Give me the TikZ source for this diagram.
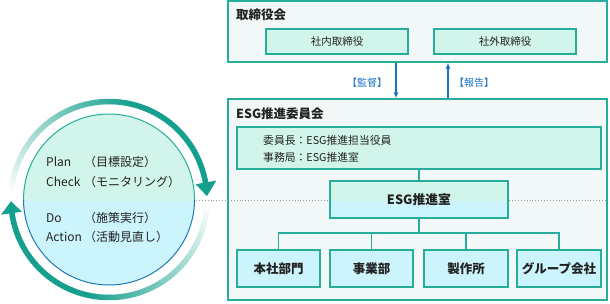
\documentclass[tikz,border=0pt]{standalone}
\usepackage{fontspec}
\setmainfont{Noto Sans CJK JP}
\usetikzlibrary{arrows.meta}
\definecolor{teal1}{HTML}{26AE9B}
\definecolor{mint}{HTML}{D2F5EB}
\definecolor{cyanf}{HTML}{CCF4FC}
\definecolor{outerf}{HTML}{F2F8F8}
\definecolor{ringc}{HTML}{14A08C}
\definecolor{blue1}{HTML}{1A72C0}
\definecolor{cblue}{HTML}{1E78B8}
\definecolor{dotc}{HTML}{9A9A9A}
\definecolor{txt}{HTML}{222222}
\tikzset{
  outerbox/.style={draw=teal1, line width=1.4pt, fill=outerf, inner sep=0pt},
  mintbox/.style={draw=teal1, line width=1.4pt, fill=mint, inner sep=0pt, text=txt, font=\fontsize{10.5}{12}\selectfont},
  cyanbox/.style={draw=teal1, line width=1.4pt, fill=cyanf, inner sep=0pt, text=txt, font=\bfseries\fontsize{12.5}{14}\selectfont},
  title/.style={anchor=west, inner sep=0pt, text=txt, font=\bfseries\fontsize{12.5}{14}\selectfont},
  conn/.style={draw=teal1, line width=1.4pt},
  varrow/.style={draw=blue1, line width=1.2pt, -{Latex[length=6pt,width=5pt]}},
  vlabel/.style={text=blue1, inner sep=0pt, font=\fontsize{10}{11}\selectfont},
  ctext/.style={anchor=west, inner sep=0pt, text=txt, font=\fontsize{12}{14}\selectfont},
  itext/.style={anchor=west, inner sep=0pt, text=txt, font=\fontsize{10.8}{12}\selectfont},
}
\begin{document}
\begin{tikzpicture}[x=1pt,y=-1pt]
\useasboundingbox (0,0) rectangle (610,303);
\def\cx{109}\def\cy{199.5}\def\R{98}
% ---- PDCA circle
\begin{scope}
  \clip (\cx,\cy) circle (85.5pt);
  \fill[mint] (0,90) rectangle (220,200.5);
  \fill[cyanf] (0,200.5) rectangle (220,300);
\end{scope}
\begin{scope}
  \clip (0,90) rectangle (220,200.5);
  \draw[teal1, line width=1pt] (\cx,\cy) circle (85.5pt);
\end{scope}
\begin{scope}
  \clip (0,200.5) rectangle (220,300);
  \draw[cblue, line width=1pt] (\cx,\cy) circle (85.5pt);
\end{scope}
% top ring arc (fading in)
\foreach \i in {0,...,84} {
  \pgfmathsetmacro\aa{178-2*\i}
  \pgfmathsetmacro\ab{\aa-2.6}
  \pgfmathtruncatemacro\p{min(100,\i*2)}
  \draw[ringc!\p!white, line width=5.5pt] ({\cx+\R*cos(\aa)},{\cy-\R*sin(\aa)}) -- ({\cx+\R*cos(\ab)},{\cy-\R*sin(\ab)});
}
\fill[ringc] ({\cx+88*cos(10)},{\cy-88*sin(10)}) -- ({\cx+109*cos(10)},{\cy-109*sin(10)}) -- ({\cx+98*cos(2)},{\cy-98*sin(2)}) -- cycle;
% bottom ring arc
\foreach \i in {0,...,85} {
  \pgfmathsetmacro\aa{-2-2*\i}
  \pgfmathsetmacro\ab{\aa-2.6}
  \pgfmathtruncatemacro\p{min(100,\i*2)}
  \draw[ringc!\p!white, line width=5.5pt] ({\cx+\R*cos(\aa)},{\cy-\R*sin(\aa)}) -- ({\cx+\R*cos(\ab)},{\cy-\R*sin(\ab)});
}
\fill[ringc] ({\cx+88*cos(-172)},{\cy-88*sin(-172)}) -- ({\cx+109*cos(-172)},{\cy-109*sin(-172)}) -- ({\cx+98*cos(-179)},{\cy-98*sin(-179)}) -- cycle;
% circle texts
\node[ctext] (tplan) at (46,162) {Plan};
\node[ctext] (tplan2) at (84,162) {（目標設定）};
\node[ctext] (tcheck) at (46,182) {Check};
\node[ctext] (tcheck2) at (84,182) {（モニタリング）};
\node[ctext] (tdo) at (46,218) {Do};
\node[ctext] (tdo2) at (84,218) {（施策実行）};
\node[ctext] (tact) at (46,237) {Action};
\node[ctext] (tact2) at (84,237) {（活動見直し）};
% ---- board
\node[outerbox, minimum width=379pt, minimum height=61pt] (board) at (417.5,31.5) {};
\node[title] (boardt) at (236,15) {取締役会};
\node[mintbox, minimum width=142pt, minimum height=25pt] (inside) at (337,41.5) {社内取締役};
\node[mintbox, minimum width=142pt, minimum height=25pt] (outside) at (505,41.5) {社外取締役};
% ---- ESG committee
\node[outerbox, minimum width=379pt, minimum height=201pt] (esg) at (417.5,199.5) {};
\node[title] (esgt) at (236,114) {ESG推進委員会};
\node[mintbox, minimum width=364pt, minimum height=42pt] (info) at (419,148) {};
\node[itext] (info1) at (263,140) {委員長：ESG推進担当役員};
\node[itext] (info2) at (263,157) {事務局：ESG推進室};
% arrows
\draw[varrow] (board.south -| 396,0) -- (esg.north -| 396,0);
\draw[varrow] (esg.north -| 448,0) -- (board.south -| 448,0);
\node[vlabel] (lab1) at (367,83) {【監督】};
\node[vlabel] (lab2) at (474,83) {【報告】};
% dotted divider
\coordinate (dl) at (196,200.5);
\coordinate (dr) at (607,200.5);
\draw[dotc, dotted, line width=0.9pt] (dl) -- (dr);
% ESG office
\begin{scope}
  \fill[mint] (330,181) rectangle (508,200.5);
  \fill[cyanf] (330,200.5) rectangle (508,218);
\end{scope}
\node[draw=teal1, line width=1.4pt, inner sep=0pt, minimum width=178pt, minimum height=37pt, text=txt, font=\bfseries\fontsize{12.8}{14}\selectfont] (room) at (419,199.5) {ESG推進室};
\draw[conn] (info.south) -- (room.north);
% units
\node[cyanbox, minimum width=83pt, minimum height=37pt] (b1) at (278.5,268.5) {本社部門};
\node[cyanbox, minimum width=83pt, minimum height=37pt] (b2) at (371.5,268.5) {事業部};
\node[cyanbox, minimum width=84pt, minimum height=37pt] (b3) at (466,268.5) {製作所};
\node[cyanbox, minimum width=84pt, minimum height=37pt] (b4) at (559,268.5) {グループ会社};
\coordinate (bus) at (419,233);
\draw[conn] (room.south) -- (bus);
\draw[conn] (b1.north) |- (bus) -| (b4.north);
\draw[conn] (b2.north) -- (b2.north |- bus);
\draw[conn] (b3.north) -- (b3.north |- bus);
\end{tikzpicture}
\end{document}
